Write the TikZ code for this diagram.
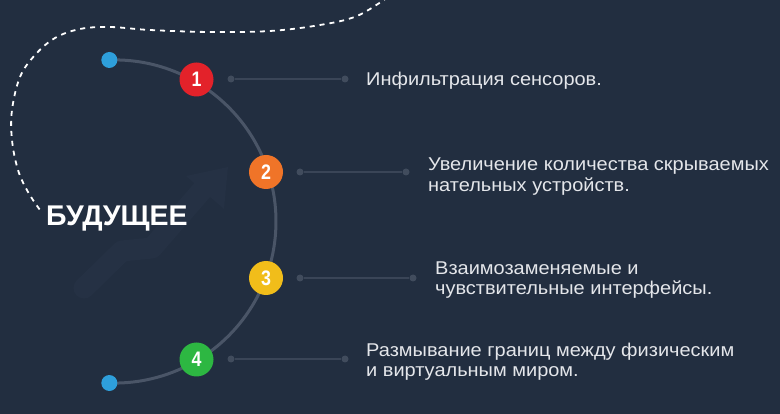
\documentclass[tikz,border=0pt]{standalone}
\usepackage{fontspec}
\usetikzlibrary{calc}
\setmainfont{Liberation Sans}
\newfontfamily\numfont{Liberation Sans}[FakeStretch=0.85]
\newfontfamily\labfont{Liberation Sans}[FakeStretch=1.08]
\definecolor{bg}{HTML}{222E40}
\definecolor{ghost}{HTML}{253144}
\definecolor{arcc}{HTML}{4A5567}
\definecolor{linec}{HTML}{3A4557}
\definecolor{dotc}{HTML}{414C5D}
\definecolor{txt}{HTML}{E4E6EA}
\definecolor{cred}{HTML}{E3222A}
\definecolor{corange}{HTML}{F07428}
\definecolor{cyellow}{HTML}{F1BD1A}
\definecolor{cgreen}{HTML}{2DB742}
\definecolor{cblue}{HTML}{2E9FDB}
\begin{document}
\begin{tikzpicture}[x=1pt,y=-1pt,
  numdot/.style={circle,minimum size=34pt,inner sep=0pt,text=white,font=\numfont\bfseries\fontsize{21}{21}\selectfont},
  enddot/.style={circle,fill=cblue,minimum size=16pt,inner sep=0pt},
  smalldot/.style={circle,fill=dotc,minimum size=7pt,inner sep=0pt},
  conn/.style={draw=linec,line width=1.4pt},
  label/.style={anchor=base west,inner sep=0pt,text=txt,font=\labfont\fontsize{18.5}{20}\selectfont},
  arcline/.style={draw=arcc,line width=3pt},
  dashline/.style={draw=white,line width=1.8pt,dash pattern=on 5pt off 5pt}]
\fill[bg] (0,0) rectangle (780,414);
\useasboundingbox (0,0) rectangle (780,414);
% ghost arrow
\draw[ghost,line width=21pt,line join=round,line cap=round] (84,288) -- (122,251) -- (152,248) -- (204,188);
\fill[ghost] (228,167) -- (186,176) -- (224,209) -- cycle;
% dashed curve
\draw[dashline] plot[smooth,tension=0.6] coordinates {(388,-3) (357,16) (320,25) (270,31) (210,32) (150,30) (110,27) (80,29) (55,38) (35,55) (20,77) (12,110) (12,140) (18,170) (28,192) (40,210)};
% main arc: circle centred at (114.4,221.5), radius 161.6
\coordinate (c) at (114.4,221.5);
\coordinate (b1) at ($(c)+(-91.8:161.6)$);
\coordinate (b2) at ($(c)+(91.8:161.6)$);
\coordinate (p1) at (196.5,79.5);
\coordinate (p2) at (266,172);
\coordinate (p3) at (266,278);
\coordinate (p4) at (196.5,359.5);
\draw[arcline] (b1) arc[start angle=-91.8,end angle=91.8,radius=161.6];
\node[enddot] (e1) at (b1) {};
\node[enddot] (e2) at (b2) {};
% connectors
\node[smalldot] (l1) at (231,79) {};
\node[smalldot] (r1) at (345,79) {};
\node[smalldot] (l2) at (300,172) {};
\node[smalldot] (r2) at (406,172) {};
\node[smalldot] (l3) at (300,278) {};
\node[smalldot] (r3) at (413,278) {};
\node[smalldot] (l4) at (231,359) {};
\node[smalldot] (r4) at (345,359) {};
\draw[conn] (l1) -- (r1);
\draw[conn] (l2) -- (r2);
\draw[conn] (l3) -- (r3);
\draw[conn] (l4) -- (r4);
% numbered circles
\node[numdot,fill=cred] (n1) at (p1) {1};
\node[numdot,fill=corange] (n2) at (p2) {2};
\node[numdot,fill=cyellow] (n3) at (p3) {3};
\node[numdot,fill=cgreen] (n4) at (p4) {4};
% texts
\node[label] (t1) at (366,86) {Инфильтрация сенсоров.};
\node[label] (t2a) at (428,170.5) {Увеличение количества скрываемых};
\node[label] (t2b) at (428,191.5) {нательных устройств.};
\node[label] (t3a) at (435,275) {Взаимозаменяемые и};
\node[label] (t3b) at (435,295) {чувствительные интерфейсы.};
\node[label] (t4a) at (366,357) {Размывание границ между физическим};
\node[label] (t4b) at (366,377) {и виртуальным миром.};
\node[anchor=base west,inner sep=0pt,text=white,font=\bfseries\fontsize{28.5}{29}\selectfont] (title) at (46,226) {БУДУЩЕЕ};
\end{tikzpicture}
\end{document}
